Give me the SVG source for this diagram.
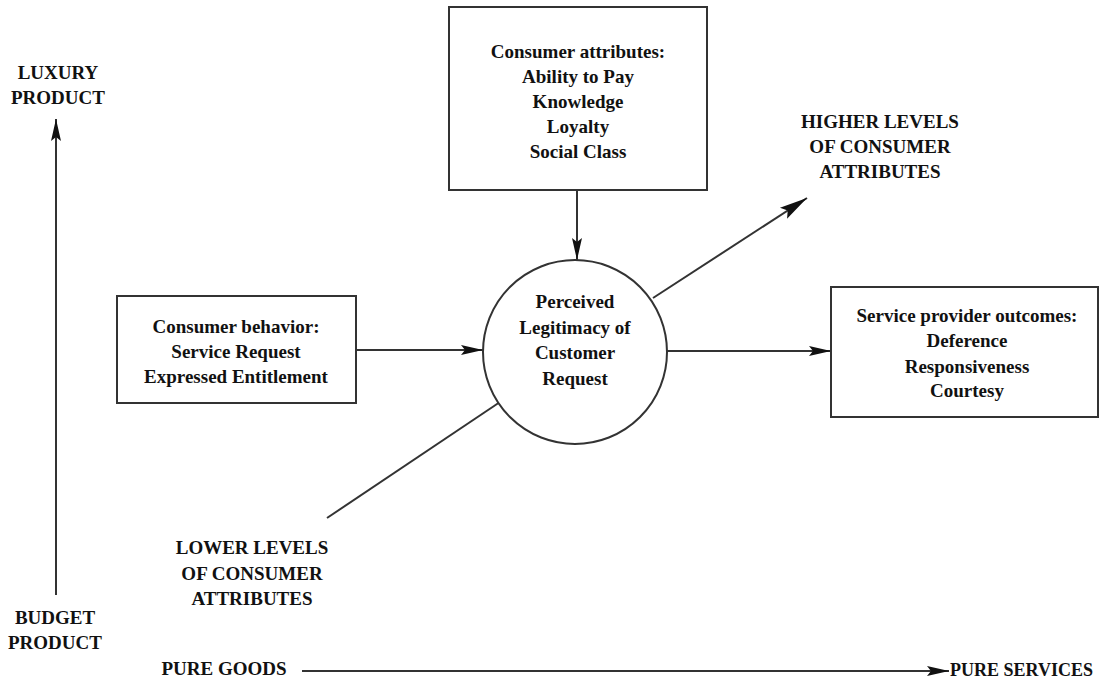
<svg xmlns="http://www.w3.org/2000/svg" width="1099" height="683" viewBox="0 0 1099 683">
  <style>
    text { font-family: "Liberation Serif", "Times New Roman", serif; font-weight: bold; font-size: 19px; fill: #111; text-anchor: middle; }
    .box { fill: #fff; stroke: #333; stroke-width: 2; }
    .ln { stroke: #333; stroke-width: 2; fill: none; }
  </style>
  <defs>
    <marker id="arr" markerUnits="userSpaceOnUse" orient="auto" markerWidth="24" markerHeight="14" refX="22" refY="7" overflow="visible">
      <path d="M0,2 L22,7 L0,12 L4,7 Z" fill="#111"/>
    </marker>
    <marker id="arrBig" markerUnits="userSpaceOnUse" orient="auto" markerWidth="30" markerHeight="16" refX="28" refY="8" overflow="visible">
      <path d="M0,1.5 L28,8 L0,14.5 L5,8 Z" fill="#111"/>
    </marker>
  </defs>
  <rect width="1099" height="683" fill="#fff"/>

  <g id="connectors">
    <line class="ln" x1="577" y1="190" x2="577" y2="260" marker-end="url(#arr)"/>
    <line class="ln" x1="356" y1="350" x2="483" y2="350" marker-end="url(#arr)"/>
    <line class="ln" x1="667" y1="351" x2="831" y2="351" marker-end="url(#arr)"/>
    <line class="ln" x1="653" y1="298" x2="807" y2="198" marker-end="url(#arrBig)"/>
    <line class="ln" x1="500" y1="402" x2="327" y2="518"/>
    <line class="ln" x1="56" y1="595" x2="56" y2="119" marker-end="url(#arr)"/>
    <line class="ln" x1="302" y1="671" x2="949" y2="671" marker-end="url(#arr)"/>
  </g>

  <g id="consumer-attributes">
    <rect class="box" x="449" y="7" width="258" height="183"/>
    <text x="578" y="58">Consumer attributes:</text>
    <text x="578" y="83">Ability to Pay</text>
    <text x="578" y="108">Knowledge</text>
    <text x="578" y="133">Loyalty</text>
    <text x="578" y="158">Social Class</text>
  </g>

  <g id="perceived-legitimacy">
    <circle class="box" cx="575" cy="352" r="92"/>
    <text x="575" y="308">Perceived</text>
    <text x="575" y="334">Legitimacy of</text>
    <text x="575" y="359">Customer</text>
    <text x="575" y="385">Request</text>
  </g>

  <g id="consumer-behavior">
    <rect class="box" x="117" y="296" width="239" height="107"/>
    <text x="236" y="333">Consumer behavior:</text>
    <text x="236" y="358">Service Request</text>
    <text x="236" y="383">Expressed Entitlement</text>
  </g>

  <g id="service-provider-outcomes">
    <rect class="box" x="831" y="287" width="267" height="130"/>
    <text x="967" y="322">Service provider outcomes:</text>
    <text x="967" y="347">Deference</text>
    <text x="967" y="373">Responsiveness</text>
    <text x="967" y="397">Courtesy</text>
  </g>

  <g id="higher-levels">
    <text x="880" y="128">HIGHER LEVELS</text>
    <text x="880" y="153">OF CONSUMER</text>
    <text x="880" y="178">ATTRIBUTES</text>
  </g>

  <g id="lower-levels">
    <text x="252" y="554">LOWER LEVELS</text>
    <text x="252" y="580">OF CONSUMER</text>
    <text x="252" y="605">ATTRIBUTES</text>
  </g>

  <g id="luxury-product">
    <text x="58" y="79">LUXURY</text>
    <text x="58" y="104">PRODUCT</text>
  </g>

  <g id="budget-product">
    <text x="55" y="624">BUDGET</text>
    <text x="55" y="649">PRODUCT</text>
  </g>

  <g id="pure-goods">
    <text x="224" y="675">PURE GOODS</text>
  </g>

  <g id="pure-services">
    <text x="950" y="676" style="text-anchor:start; font-size:18px">PURE SERVICES</text>
  </g>
</svg>
